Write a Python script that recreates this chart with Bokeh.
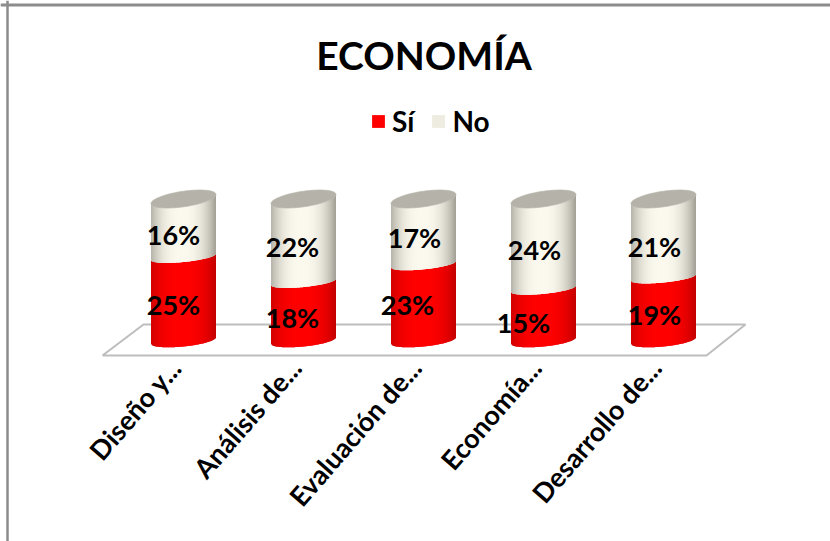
import numpy as np
from bokeh.embed import file_html
from bokeh.resources import INLINE
from bokeh.plotting import figure
from bokeh.models import Range1d, Legend, LegendItem, LinearAxis, FixedTicker, Span, Label, CustomJSTickFormatter
from bokeh.core.properties import value

# ---- data -----
title_text = "ECONOMÍA"
categories = ["Diseño y...", "Análisis de...", "Evaluación de...", "Economía...", "Desarrollo de..."]
si_labels = [25, 18, 23, 15, 19]
no_labels = [16, 22, 17, 24, 21]
si_height = [59, 41.3, 53.8, 36.5, 44.5]   # share of the 100 % column
series = ["Sí", "No"]

# ---- layout (page pixels) ----
W, H = 830, 541
PX_X0, PX_STEP = 183.0, 120.0      # first column centre, column spacing
PX_Y0, PX_PER = 340.0, 1.415       # base of the columns, pixels per percent

def dx(px):
    return (px - PX_X0) / PX_STEP

def dy(py):
    return (PX_Y0 - py) / PX_PER

p = figure(width=W, height=H, output_backend="svg", toolbar_location=None,
           min_border_left=0, min_border_right=0, min_border_top=0, min_border_bottom=0,
           x_range=Range1d(dx(0), dx(W)), y_range=Range1d(dy(H), dy(0)),
           x_axis_location=None, y_axis_location=None)
p.outline_line_color = None
p.background_fill_color = "white"
p.border_fill_color = "white"
p.grid.visible = False

# frame of the picture
p.add_layout(Span(location=dx(7), dimension="height", line_color="#8c8c8c", line_width=2.5))
p.add_layout(Span(location=dy(4.5), dimension="width", line_color="#8c8c8c", line_width=3))

# title
p.add_layout(Label(x=dx(423.5), y=dy(54), text=title_text, text_font="Lato", text_font_size="39px",
                   text_font_style="bold", text_color="black", text_align="center", text_baseline="middle"))

# floor
p.line([dx(v) for v in (102, 706, 745, 143, 102)], [dy(v) for v in (355, 355, 324, 324, 355)],
       line_color="#bdbdbd", line_width=2)

# cylinders
HALF = 32.5 / PX_STEP
N = 40
edges = np.linspace(-1, 1, N + 1)
step = edges[1] - edges[0]

def curve(t, shear, depth):
    """lower outline of a tilted ellipse, in percent units"""
    return (shear * t - depth * np.sqrt(np.clip(1 - t * t, 0, 1))) / PX_PER

def mix(a, b, k):
    return "#%02x%02x%02x" % tuple(int(round(a[i] + (b[i] - a[i]) * k)) for i in range(3))

RED_E, RED_C = (200, 0, 0), (255, 0, 0)
WHT_E, WHT_C = (170, 168, 158), (251, 249, 238)

xs, ys, cols = [], [], []
for i, h in enumerate(si_height):
    for lo, hi, ce, cc in ((0, h, RED_E, RED_C), (h, 100, WHT_E, WHT_C)):
        top_s, top_d = (3.2, 5) if hi < 100 else (4.5, 7.8)
        low_s, low_d = (3.2, 6) if lo == 0 else (3.2, 5)
        for a in edges[:-1]:
            b = min(a + 2 * step, 1.0)       # each strip runs under the next one
            m = a + step / 2
            ts = np.linspace(a, b, 5)
            xs.append(list(i + ts * HALF) + list(i + ts[::-1] * HALF))
            ys.append(list(lo + curve(ts, low_s, low_d)) + list(hi + curve(ts[::-1], top_s, top_d)))
            cols.append(mix(ce, cc, 1 - abs(m + 0.05) ** 2.6))
p.patches(xs, ys, fill_color=cols, line_color=None)

# caps
th = np.linspace(0, 2 * np.pi, 73)
cap_x = [list(i + np.cos(th) * HALF) for i in range(5)]
cap_y = [list(100 + (4.5 * np.cos(th) + 7.8 * np.sin(th)) / PX_PER) for i in range(5)]
p.patches(cap_x, cap_y, fill_color="#b4b2a9", line_color="#b4b2a9", line_width=0.6)

# data labels (hand-placed offsets of the original labels)
si_off = [(-10, 36), (-11, 23), (-16, 36), (-20, 18), (-9, 26)]
no_off = [(-10, 106), (-11, 94), (-9, 103), (-9, 91), (-9, 94)]
for vals, off in ((si_labels, si_off), (no_labels, no_off)):
    p.text([i + o[0] / PX_STEP for i, o in enumerate(off)],
           [o[1] / PX_PER for o in off],
           text=[f"{v}%" for v in vals], text_font=value("Lato"), text_font_style="bold",
           text_font_size="27px", text_color="black", text_align="center", text_baseline="middle")

# x axis
ax = LinearAxis(ticker=FixedTicker(ticks=[i + dx(175) for i in range(5)]), fixed_location=dy(354),
                formatter=CustomJSTickFormatter(args=dict(labels=categories), code="return labels[Math.round(tick)]"),
                major_label_orientation=np.deg2rad(49), major_label_text_font="Lato",
                major_label_text_font_style="bold", major_label_text_font_size="27px",
                major_label_text_color="black", major_label_standoff=2,
                axis_line_color=None, major_tick_line_color=None, minor_tick_line_color=None)
p.add_layout(ax, "below")

# legend
r1 = p.rect(x=[np.nan], y=[np.nan], width=1, height=1, fill_color="#ff0000", line_color=None)
r2 = p.rect(x=[np.nan], y=[np.nan], width=1, height=1, fill_color="#eeece1", line_color=None)
leg = Legend(items=[LegendItem(label=series[0], renderers=[r1]), LegendItem(label=series[1], renderers=[r2])],
             orientation="horizontal", location=(370, H - 138),
             glyph_width=16, glyph_height=16, label_standoff=6, spacing=16, padding=0, margin=0,
             border_line_color=None, background_fill_alpha=0,
             label_text_font="Lato", label_text_font_style="bold", label_text_font_size="28px",
             label_text_color="black", label_height=20)
p.add_layout(leg, "center")

open("out.html", "w").write(file_html(p, INLINE))
